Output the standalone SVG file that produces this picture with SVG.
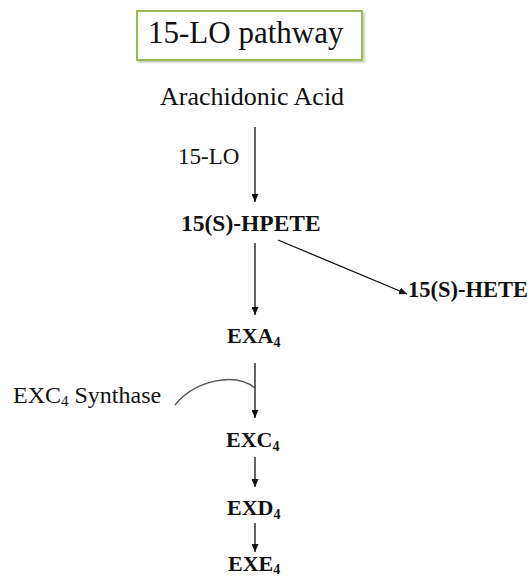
<svg xmlns="http://www.w3.org/2000/svg" width="531" height="577" viewBox="0 0 531 577">
<style>
text{font-family:"Liberation Serif","Times New Roman",serif;fill:#111}
.b{font-weight:bold;font-size:22px}
.r{font-size:23px}
.ln{stroke:#111;stroke-width:1.3;fill:none}
</style>
<defs>
<marker id="ah" markerUnits="userSpaceOnUse" markerWidth="8" markerHeight="7" refX="8" refY="3.5" orient="auto">
<path d="M0,0 L8,3.5 L0,7 z" fill="#111"/>
</marker>
<filter id="sh" x="-5%" y="-10%" width="115%" height="130%">
<feDropShadow dx="1.5" dy="1.5" stdDeviation="1" flood-color="#000" flood-opacity="0.25"/>
</filter>
</defs>
<rect width="531" height="577" fill="#fff"/>
<g id="title">
<rect x="137" y="11" width="225" height="49" fill="#fff" stroke="#9bbb59" stroke-width="2" filter="url(#sh)"/>
<text x="148" y="43" style="font-size:31px">15-LO pathway</text>
</g>
<g id="arachidonic"><text x="160" y="105" class="r" style="font-size:26px">Arachidonic Acid</text></g>
<g id="lo15"><text x="178" y="164" class="r">15-LO</text></g>
<g id="hpete"><text x="181" y="231" class="b" style="font-size:23.5px">15(S)-HPETE</text></g>
<g id="hete"><text x="408" y="297" class="b" style="font-size:22.5px">15(S)-HETE</text></g>
<g id="exa4"><text x="227" y="343" class="b">EXA<tspan font-size="14" dy="4">4</tspan></text></g>
<g id="synthase"><text x="13" y="403" class="r" style="font-size:24px">EXC<tspan font-size="15" dy="3">4</tspan><tspan dy="-3"> Synthase</tspan></text></g>
<g id="exc4"><text x="226" y="447" class="b">EXC<tspan font-size="14" dy="4">4</tspan></text></g>
<g id="exd4"><text x="227" y="515" class="b">EXD<tspan font-size="14" dy="4">4</tspan></text></g>
<g id="exe4"><text x="228" y="571" class="b">EXE<tspan font-size="14" dy="3">4</tspan></text></g>
<g id="connectors">
<line class="ln" x1="255" y1="127" x2="255" y2="202" marker-end="url(#ah)"/>
<line class="ln" x1="255" y1="243" x2="255" y2="315" marker-end="url(#ah)"/>
<line class="ln" x1="278" y1="240" x2="407" y2="294" marker-end="url(#ah)"/>
<line class="ln" x1="255" y1="363" x2="255" y2="418" marker-end="url(#ah)"/>
<line class="ln" x1="255" y1="457" x2="255" y2="487" marker-end="url(#ah)"/>
<line class="ln" x1="255" y1="523" x2="255" y2="552" marker-end="url(#ah)"/>
<path d="M175,405 C195,380 235,372 255,388" stroke="#555" stroke-width="1.5" fill="none"/>
</g>
</svg>
